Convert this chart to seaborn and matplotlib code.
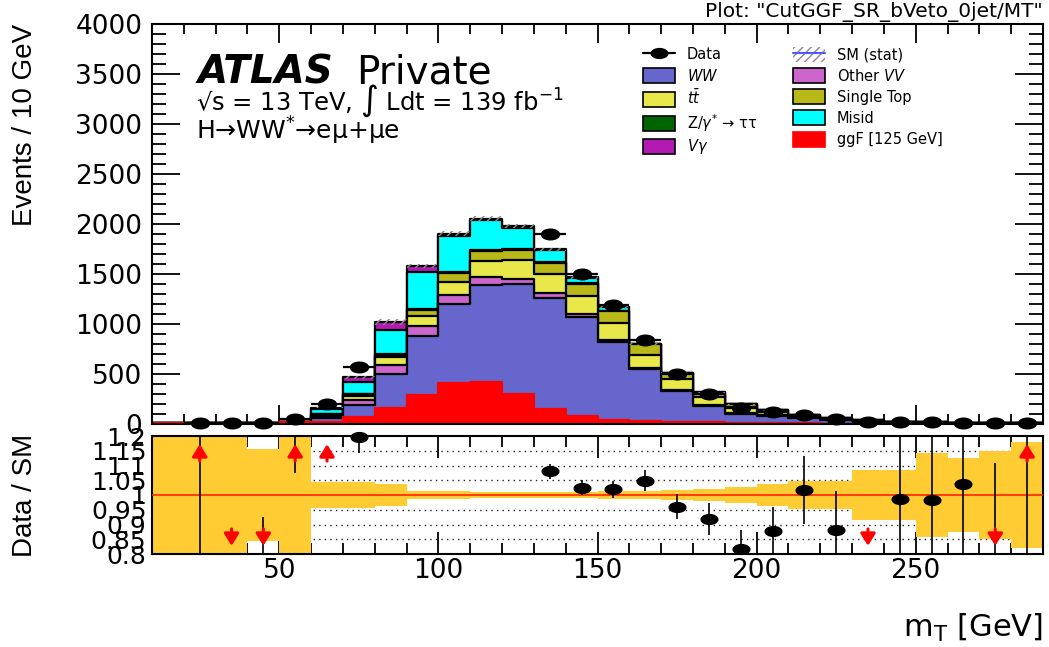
import numpy as np
import pandas as pd
import matplotlib
matplotlib.use("Agg")
import matplotlib.pyplot as plt
import seaborn as sns
from matplotlib.path import Path
from matplotlib.patches import Patch, Rectangle
from matplotlib.lines import Line2D
from matplotlib.transforms import Affine2D
from matplotlib.legend_handler import HandlerPatch
from matplotlib import font_manager as fm

# ---------------- data ----------------
bin_edges = np.arange(10, 300, 10)          # 10 ... 290 GeV, 28 bins
bin_centers = bin_edges[:-1] + 5

ggf    = [12, 12, 12, 12, 15, 20, 65, 160, 292, 408, 418, 295, 152, 75, 42, 28, 20, 15, 12, 8, 5, 4, 3, 2, 2, 1, 1, 1]
ww     = [0, 0, 0, 0, 3, 40, 127, 335, 586, 794, 967, 1100, 1110, 993, 776, 524, 308, 165, 90, 75, 50, 35, 22, 14, 10, 8, 6, 5]
othvv  = [0, 0, 0, 0, 1, 10, 50, 90, 97, 83, 83, 57, 46, 34, 24, 10, 7, 5, 3, 2, 1, 1, 1, 0, 0, 0, 0, 0]
ttbar  = [0, 0, 0, 0, 1, 15, 40, 85, 100, 133, 157, 190, 194, 173, 166, 123, 110, 83, 60, 35, 22, 14, 8, 5, 4, 3, 2, 1]
stop   = [0, 0, 0, 0, 0, 10, 15, 15, 60, 90, 100, 100, 110, 127, 117, 110, 63, 44, 33, 15, 8, 5, 3, 2, 1, 1, 1, 1]
ztt    = [0, 0, 0, 0, 0, 5, 5, 17, 17, 10, 10, 10, 5, 3, 3, 2, 1, 1, 0, 0, 0, 0, 0, 0, 0, 0, 0, 0]
misid  = [0, 0, 0, 0, 2, 47, 116, 240, 366, 357, 300, 210, 117, 55, 40, 5, 3, 2, 1, 1, 1, 1, 0, 0, 0, 0, 0, 0]
vgamma = [0, 0, 0, 0, 1, 15, 50, 76, 60, 27, 17, 17, 10, 5, 3, 1, 1, 0, 0, 0, 0, 0, 0, 0, 0, 0, 0, 0]

nan = np.nan
data_counts = [nan, 8, 5, 12, 52, 202, 568, nan, nan, nan, nan, nan, 1902, 1502, 1185, 835,
               502, 295, 162, 118, 86, 52, 22, 22, 16, 12, 5, 10]

# relative SM uncertainty (ratio band half width)
sm_rel_unc = [1, 1, 1, 0.157, 1, 0.045, 0.044, 0.037, 0.015, 0.012, 0.010, 0.010, 0.010, 0.011,
              0.012, 0.014, 0.017, 0.022, 0.026, 0.036, 0.047, 0.049, 0.086, 0.084, 0.143, 0.127, 0.150, 0.180]

ratio_val = [nan, 1.5, 0.5, 0.7, 1.35, 1.25, 1.198, nan, nan, nan, nan, nan, 1.08, 1.025, 1.019, 1.048,
             0.96, 0.92, 0.818, 0.878, 1.017, 0.883, 0.7, 0.985, 0.983, 1.038, 0.55, 1.4]
ratio_err = [nan, 1.5, 0.2, 0.225, 0.275, 0.04, 0.055, nan, nan, nan, nan, nan, 0.025, 0.026, 0.03, 0.036,
             0.043, 0.054, 0.065, 0.08, 0.115, 0.13, 0.08, 0.23, 0.25, 0.3, 0.56, 0.65]

ratio_yticks = [0.8, 0.85, 0.9, 0.95, 1.0, 1.05, 1.1, 1.15, 1.2]
ratio_yticklabels = ["0.8", "0.85", "0.9", "0.95", "1", "1.05", "1.1", "1.15", "1.2"]

# ---------------- style ----------------
sns.set_theme(style="ticks")
plt.rcParams["font.family"] = ["DejaVu Sans"]
plt.rcParams["mathtext.fontset"] = "dejavusans"
plt.rcParams["hatch.linewidth"] = 1.0
plt.rcParams["axes.linewidth"] = 1.5
plt.rcParams["axes.edgecolor"] = "black"
for k in ["text.color", "axes.labelcolor", "xtick.color", "ytick.color"]:
    plt.rcParams[k] = "black"

names = {f.name for f in fm.fontManager.ttflist}
narrow = "Liberation Sans Narrow" if "Liberation Sans Narrow" in names else "Liberation Sans"
narrow_size = 23 if narrow == "Liberation Sans Narrow" else 20

C_WW = "#6666cc"
C_TT = "#e8e84a"
C_ZTT = "#006400"
C_VG = "#b31ab3"
C_VV = "#cc66cc"
C_ST = "#b8b818"
C_MIS = "#00ffff"
C_GGF = "#ff0000"
C_BAND = "#ffcc33"

W, H = 1049, 647
fig = plt.figure(figsize=(W / 100, H / 100), dpi=100)
ax = fig.add_axes([152 / W, 1 - 424 / H, 891 / W, 400.5 / H])
axr = fig.add_axes([152 / W, 1 - 554 / H, 891 / W, 118 / H])

# ---------------- stacked histogram ----------------
layers = [
    ("ggF", ggf, C_GGF, C_GGF),
    ("WW", ww, C_WW, "black"),
    ("VV", othvv, C_VV, "black"),
    ("tt", ttbar, C_TT, "black"),
    ("st", stop, C_ST, "black"),
    ("Ztt", ztt, C_ZTT, "black"),
    ("Misid", misid, C_MIS, "black"),
    ("Vgamma", vgamma, C_VG, "black"),
]
cum = np.zeros(len(bin_centers))
tops = []
for _, vals, _, _ in layers:
    cum = cum + np.asarray(vals, float)
    tops.append(cum.copy())
total = tops[-1]

for i in range(len(layers) - 1, -1, -1):
    name, vals, fc, ec = layers[i]
    df = pd.DataFrame({"mT": bin_centers.astype(float), "w": tops[i]})
    z = 2.5 if name == "ggF" else 2 + (len(layers) - i) * 0.01
    sns.histplot(data=df, x="mT", weights="w", bins=list(bin_edges), element="step", fill=True,
                 color=fc, alpha=1.0, edgecolor=ec, linewidth=1.6, ax=ax, zorder=z)

# stat hatch on top of stack
unc_abs = total * np.minimum(np.asarray(sm_rel_unc), 0.03)
lo = np.append(total - unc_abs, (total - unc_abs)[-1])
hi = np.append(total + unc_abs, (total + unc_abs)[-1])
ax.fill_between(bin_edges, lo, hi, step="post", facecolor="none", edgecolor="#8a8a8a",
                hatch="////", linewidth=0, zorder=3)

# data points
ell = Affine2D().scale(1.7, 1.0).transform_path(Path.unit_circle())
dc = np.asarray(data_counts, float)
ax.errorbar(bin_centers, dc, xerr=5, yerr=np.sqrt(dc), fmt="none", ecolor="black",
            elinewidth=1.6, capsize=0, zorder=5)
ax.plot(bin_centers, dc, ls="none", marker=ell, ms=13, color="black", zorder=6, clip_on=False)

ax.set_xlim(10, 290)
ax.set_ylim(0, 4000)
ax.set_xticks(range(50, 300, 50))
ax.set_xticks(range(10, 291, 10), minor=True)
ax.set_yticks(range(0, 4001, 500))
ax.set_yticks(range(0, 4001, 100), minor=True)
ax.tick_params(axis="x", which="major", direction="in", length=14, width=1.3, top=True, bottom=True,
               labelbottom=False)
ax.tick_params(axis="x", which="minor", direction="in", length=7, width=1.3, top=True, bottom=True)
ax.tick_params(axis="y", which="major", direction="in", length=20, width=1.3, left=True, right=True,
               labelsize=19, pad=7)
ax.tick_params(axis="y", which="minor", direction="in", length=10, width=1.3, left=True, right=True)
for s in ax.spines.values():
    s.set_linewidth(1.5)
    s.set_color("black")
ax.set_xlabel("")
ax.set_ylabel("Events / 10 GeV", fontsize=narrow_size, family=narrow)
ax.yaxis.label.set_rotation_mode("anchor")
ax.yaxis.label.set_ha("right")
ax.yaxis.label.set_va("center")
ax.yaxis.set_label_coords((25 - 152) / 891, 1.0)

# ---------------- ratio panel ----------------
for v in [0.85, 0.9, 0.95, 1.05, 1.1, 1.15]:
    axr.axhline(v, ls=(0, (1, 3)), color="#222222", lw=1.0, zorder=1)
band = np.asarray(sm_rel_unc)
axr.fill_between(bin_edges, np.append(1 - band, 1 - band[-1]), np.append(1 + band, 1 + band[-1]),
                 step="post", color=C_BAND, lw=0, zorder=2)
axr.axhline(1.0, color="#ff2200", lw=1.2, zorder=3)

rv = np.asarray(ratio_val, float)
re = np.asarray(ratio_err, float)
axr.errorbar(bin_centers, rv, yerr=re, fmt="none", ecolor="black", elinewidth=1.2, capsize=0, zorder=4)
inr = (rv >= 0.8) & (rv <= 1.2)
axr.plot(bin_centers[inr], rv[inr], ls="none", marker=ell, ms=12, color="black", zorder=5, clip_on=False)
for x, r in zip(bin_centers, rv):
    if np.isnan(r) or (0.8 <= r <= 1.2):
        continue
    if r > 1.2:
        y0, y1 = 1.115, 1.172
    else:
        y0, y1 = 0.885, 0.828
    axr.annotate("", xy=(x, y1), xytext=(x, y0),
                 arrowprops=dict(arrowstyle="-|>,head_length=0.4,head_width=0.25", color="red",
                                 lw=2.2, shrinkA=0, shrinkB=0, mutation_scale=18), zorder=6)

axr.set_xlim(10, 290)
axr.set_ylim(0.8, 1.2)
axr.set_xticks(range(50, 300, 50))
axr.set_xticks(range(10, 291, 10), minor=True)
axr.set_yticks(ratio_yticks)
axr.set_yticklabels(ratio_yticklabels)
axr.tick_params(axis="x", which="major", direction="in", length=16, width=1.3, top=True, bottom=True,
                labelsize=19, pad=3)
axr.tick_params(axis="x", which="minor", direction="in", length=8, width=1.3, top=True, bottom=True)
axr.tick_params(axis="y", which="major", direction="in", length=10, width=1.3, left=True, right=True,
                labelsize=18, pad=4)
for s in axr.spines.values():
    s.set_linewidth(1.5)
    s.set_color("black")
axr.set_ylabel("Data / SM", fontsize=narrow_size, family=narrow)
axr.yaxis.label.set_rotation_mode("anchor")
axr.yaxis.label.set_ha("center")
axr.yaxis.label.set_va("center")
axr.yaxis.set_label_coords((25 - 152) / 891, 0.5)
axr.set_xlabel(r"m$_{\mathrm{T}}$ [GeV]", fontsize=22)
axr.xaxis.label.set_ha("right")
axr.xaxis.label.set_va("center")
axr.xaxis.set_label_coords(1.0, (554 - 628) / 118)

# ---------------- texts ----------------
fig.text(1043 / W, 1 - 12 / H, 'Plot: "CutGGF_SR_bVeto_0jet/MT"', fontsize=14.5, ha="right", va="center")
t_atlas = fig.text(198 / W, 1 - 83 / H, "ATLAS", fontsize=28, fontweight="bold", fontstyle="italic",
                   va="baseline")
fig.canvas.draw()
bb = t_atlas.get_window_extent()
fig.text((bb.x1 + 22) / W, 1 - 83 / H, "Private", fontsize=28, va="baseline")
fig.text(196 / W, 1 - 110 / H, "√s = 13 TeV, ∫ Ldt = 139 fb$^{-1}$", fontsize=17.5, va="baseline")
fig.text(196 / W, 1 - 140 / H, "H→WW$^{*}$→eμ+μe", fontsize=18, va="baseline")

# ---------------- legend ----------------
def small_box(legend, orig_handle, xdescent, ydescent, width, height, fontsize):
    h = 15.0 * 72.0 / fig.dpi
    return Rectangle((-xdescent, -ydescent + (height - h) / 2.0), width, h)

hmap = {Patch: HandlerPatch(patch_func=small_box)}

h1 = [Line2D([], [], color="black", marker=ell, ms=12, lw=1.6),
      Patch(facecolor=C_WW, edgecolor="black", lw=1.2),
      Patch(facecolor=C_TT, edgecolor="black", lw=1.2),
      Patch(facecolor=C_ZTT, edgecolor="black", lw=1.2),
      Patch(facecolor=C_VG, edgecolor="black", lw=1.2)]
l1 = ["Data", "$WW$", r"$t\bar{t}$", r"Z/$\gamma^{*}$ → ττ", r"$V\gamma$"]
h2 = [(Patch(facecolor="white", edgecolor="#8a8a8a", hatch="////", lw=0),
       Line2D([], [], color="#5555ff", lw=1.5)),
      Patch(facecolor=C_VV, edgecolor="black", lw=1.2),
      Patch(facecolor=C_ST, edgecolor="black", lw=1.2),
      Patch(facecolor=C_MIS, edgecolor="black", lw=1.2),
      Patch(facecolor=C_GGF, edgecolor=C_GGF, lw=1.2)]
l2 = ["SM (stat)", "Other $VV$", "Single Top", "Misid", "ggF [125 GeV]"]
common = dict(loc="upper left", bbox_transform=fig.transFigure, frameon=False, fontsize=10.5,
              handlelength=2.2, handleheight=1.45, labelspacing=0.26, handletextpad=0.8,
              borderpad=0, borderaxespad=0, handler_map=hmap)
leg1 = ax.legend(h1, l1, bbox_to_anchor=(643 / W, 1 - 46 / H), **common)
ax.add_artist(leg1)
leg2 = ax.legend(h2, l2, bbox_to_anchor=(793 / W, 1 - 46 / H), **common)

fig.savefig("out.png", dpi=100)
